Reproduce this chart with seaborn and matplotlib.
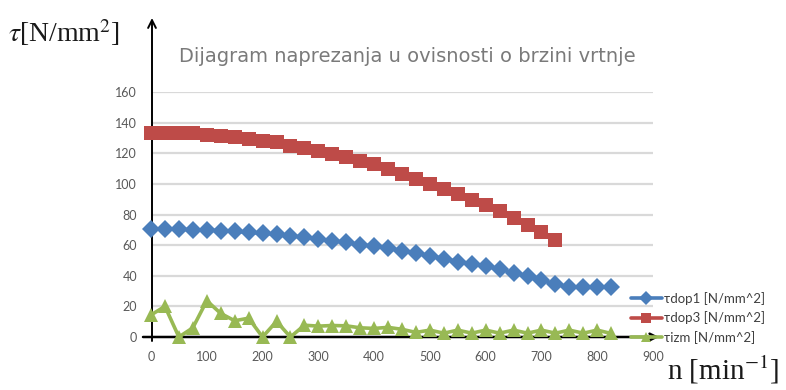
import matplotlib
matplotlib.use("Agg")
import matplotlib.pyplot as plt
import seaborn as sns
import pandas as pd

# Rotational speed n [min^-1], sampled every 25
n_all = [0, 25, 50, 75, 100, 125, 150, 175, 200, 225, 250, 275, 300, 325, 350,
         375, 400, 425, 450, 475, 500, 525, 550, 575, 600, 625, 650, 675, 700,
         725, 750, 775, 800, 825]

tau_dop1 = [70.7, 70.4, 70.4, 70.0, 70.0, 69.3, 69.0, 68.3, 67.8, 67.1, 66.2,
            65.0, 64.0, 62.8, 61.8, 60.4, 59.2, 57.9, 56.4, 55.0, 53.0, 51.2,
            49.2, 48.0, 46.3, 44.2, 42.0, 39.8, 37.0, 34.7, 32.5, 32.4, 32.4,
            32.6]

n_dop3 = n_all[:30]
tau_dop3 = [132.9, 133.3, 133.3, 132.9, 132.2, 131.1, 130.6, 129.5, 128.2,
            127.3, 125.0, 123.3, 121.5, 119.5, 117.6, 115.2, 112.9, 109.8,
            106.7, 103.3, 100.0, 96.7, 93.3, 89.6, 86.2, 82.2, 77.6, 73.0,
            68.5, 63.6]

tau_izm = [14.4, 20.0, 0.0, 6.0, 23.7, 15.4, 10.6, 12.3, 0.0, 10.2, 0.0, 7.7,
           7.1, 7.5, 7.3, 6.0, 5.6, 6.3, 5.0, 3.0, 4.5, 2.5, 4.5, 2.5, 4.5,
           2.5, 4.5, 2.5, 4.5, 2.5, 4.5, 2.5, 4.5, 2.3]

labels = ["τdop1 [N/mm^2]", "τdop3 [N/mm^2]", "τizm [N/mm^2]"]
colors = ["#4a7ebb", "#be4b48", "#98b954"]

y_ticks = list(range(0, 161, 20))
x_ticks = list(range(0, 901, 100))

sns.set_theme(style="white")
plt.rcParams["font.family"] = ["Lato", "DejaVu Sans"]
plt.rcParams["mathtext.fontset"] = "stix"

fig = plt.figure(figsize=(7.86, 3.90), dpi=100)
W, H = 786, 390
x0, x1, y0, y1 = 151, 653, 337, 92
ax = fig.add_axes([x0 / W, 1 - y0 / H, (x1 - x0) / W, (y0 - y1) / H])

df1 = pd.DataFrame({"n": n_all, "tau": tau_dop1})
df3 = pd.DataFrame({"n": n_dop3, "tau": tau_dop3})
dfi = pd.DataFrame({"n": n_all, "tau": tau_izm})

common = dict(linewidth=2.6, markeredgewidth=0, clip_on=False, ax=ax)
sns.lineplot(data=df1, x="n", y="tau", color=colors[0], marker="D",
             markersize=9, label=labels[0], zorder=5, **common)
sns.lineplot(data=df3, x="n", y="tau", color=colors[1], marker="s",
             markersize=9.5, label=labels[1], zorder=5, **common)
sns.lineplot(data=dfi, x="n", y="tau", color=colors[2], marker="^",
             markersize=10.5, label=labels[2], zorder=5, **common)

ax.set_xlim(0, 900)
ax.set_ylim(0, 160)
ax.set_xticks(x_ticks)
ax.set_yticks(y_ticks)
ax.set_xlabel("")
ax.set_ylabel("")
for s in ax.spines.values():
    s.set_visible(False)
ax.grid(axis="y", color="#d9d9d9", linewidth=1.6)
ax.grid(axis="x", visible=False)
ax.tick_params(axis="y", length=0, pad=10, labelsize=9, labelcolor="#595959")
ax.tick_params(axis="x", length=4, width=0.8, color="#404040", direction="out",
               pad=6, labelsize=9, labelcolor="#595959")

# Axis arrows
ax.annotate("", xy=(152 / W, 1 - 18 / H), xytext=(152 / W, 1 - 341 / H),
            xycoords="figure fraction",
            arrowprops=dict(arrowstyle="->", color="black", lw=1.4,
                            mutation_scale=14, shrinkA=0, shrinkB=0))
ax.annotate("", xy=(659 / W, 1 - 337 / H), xytext=(143 / W, 1 - 337 / H),
            xycoords="figure fraction",
            arrowprops=dict(arrowstyle="->", color="black", lw=1.8,
                            mutation_scale=12, shrinkA=0, shrinkB=0))

fig.text(407 / W, 1 - 57 / H, "Dijagram naprezanja u ovisnosti o brzini vrtnje",
         ha="center", va="center", fontsize=14, color="#7a7a7a",
         family=["DejaVu Sans"])
fig.text(8 / W, 1 - 33 / H, r"$\tau$[N/mm$^2$]", ha="left", va="center",
         fontsize=20, color="#1a1a1a", family=["Liberation Serif", "DejaVu Serif"])
fig.text(667 / W, 1 - 370 / H, r"n [min$^{\mathrm{-1}}$]", ha="left", va="center",
         fontsize=21, color="#1a1a1a", family=["Liberation Serif", "DejaVu Serif"])

leg = ax.legend(loc="center left", bbox_to_anchor=(624 / W, 1 - 318 / H),
                bbox_transform=fig.transFigure, frameon=False, fontsize=9.5,
                handlelength=2.4, handletextpad=0.15, labelspacing=0.5,
                borderpad=0, labelcolor="#404040")
for h in leg.legend_handles:
    h.set_markersize(7)

fig.savefig("out.png", dpi=100)
